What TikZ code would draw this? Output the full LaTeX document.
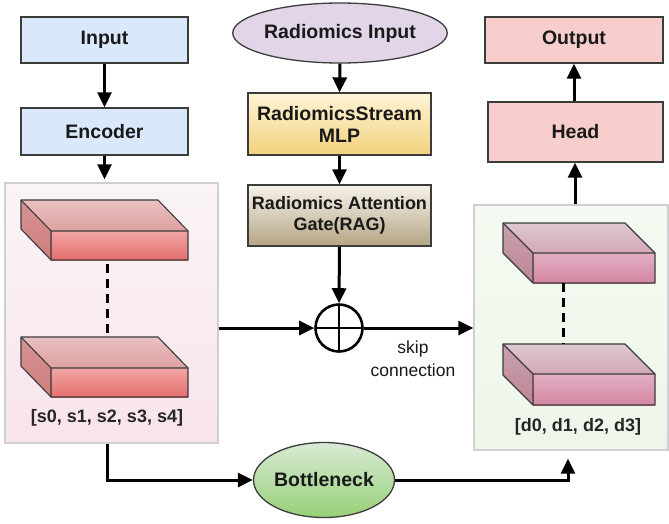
\documentclass[tikz,border=0pt]{standalone}
\usepackage{fontspec}
\setmainfont{Liberation Sans}
\usetikzlibrary{arrows.meta,shapes.geometric,calc}
\definecolor{strk}{HTML}{3C3C3C}
\definecolor{inblue}{HTML}{DAE8FC}
\definecolor{outpink}{HTML}{F8CECC}
\definecolor{radpurp}{HTML}{E1D5E7}
\definecolor{mlpA}{HTML}{FFF4D6}
\definecolor{mlpB}{HTML}{F2D27E}
\definecolor{ragA}{HTML}{F6F2EA}
\definecolor{ragB}{HTML}{B5A585}
\definecolor{bnA}{HTML}{D8EBD5}
\definecolor{bnB}{HTML}{97D077}
\definecolor{lcA}{HTML}{FAF4F6}
\definecolor{lcB}{HTML}{F8E4EA}
\definecolor{rcA}{HTML}{F4FAF1}
\definecolor{rcB}{HTML}{EEF6EA}
\definecolor{contstrk}{HTML}{D0D0D0}
% left slab colours
\definecolor{LTa}{HTML}{EAC0C0}
\definecolor{LTb}{HTML}{DEA0A0}
\definecolor{LFa}{HTML}{F2A6A6}
\definecolor{LFb}{HTML}{E66E6E}
\definecolor{LSa}{HTML}{D89292}
\definecolor{LSb}{HTML}{CE7E7E}
% right slab colours
\definecolor{RTa}{HTML}{DDC9D2}
\definecolor{RTb}{HTML}{D3A7B9}
\definecolor{RFa}{HTML}{E2AEC3}
\definecolor{RFb}{HTML}{D486A3}
\definecolor{RSa}{HTML}{CBA0AE}
\definecolor{RSb}{HTML}{BC8696}
% slab: x y w dx dy h prefix
\newcommand\slabshape[7]{%
  \fill[top color=#7Ta,bottom color=#7Tb] (#1,#2) -- ++(#3,0) -- ++(#4,#5) -- ++(-#3,0) -- cycle;
  \fill[top color=#7Fa,bottom color=#7Fb] (#1+#4,#2+#5) rectangle ++(#3,#6);
  \fill[top color=#7Sa,bottom color=#7Sb] (#1,#2) -- ++(#4,#5) -- ++(0,#6) -- ++(-#4,-#5) -- cycle;
  \draw[slabline] (#1,#2) -- ++(#3,0) -- ++(#4,#5) -- ++(0,#6) -- ++(-#3,0) -- ++(-#4,-#5) -- cycle;
  \draw[slabline] (#1,#2) -- ++(#4,#5) -- ++(#3,0) (#1+#4,#2+#5) -- ++(0,#6);
}
\begin{document}
\begin{tikzpicture}[x=1pt,y=-1pt,
  box/.style={draw=strk,line width=1.3pt,rectangle,minimum width=#1,inner sep=0pt,
    font=\fontsize{19.5}{23}\selectfont\bfseries,text=black!90,align=center},
  box/.default=170pt,
  cont/.style={draw=contstrk,line width=1.3pt,rectangle,inner sep=0pt},
  slabline/.style={draw=strk,line width=1.1pt,line join=round},
  arr/.style={line width=3pt,-{Stealth[length=15pt,width=14pt,inset=0pt]}},
  dashln/.style={line width=3pt,dash pattern=on 9pt off 6pt},
  lbl/.style={font=\fontsize{18}{21}\selectfont\bfseries,text=black!85},
]
\useasboundingbox (0,0) rectangle (669,523);
\fill[white] (0,0) rectangle (669,523);

% left column
\node[box=167pt,minimum height=46pt,fill=inblue] (input) at (104.5,40) {Input};
\node[box=167pt,minimum height=47pt,fill=inblue] (enc) at (104.5,131.5) {Encoder};
\node[cont,minimum width=213pt,minimum height=260pt,top color=lcA,bottom color=lcB] (leftc) at (111.5,313) {};
\slabshape{21}{200}{137}{30}{31}{29}{L}
\slabshape{21}{337}{137}{30}{31}{29}{L}
\draw[dashln] (107,264) -- (107,338);
\node[lbl] (slabel) at (107,418) {[s0, s1, s2, s3, s4]};

% middle column
\node[ellipse,draw=strk,line width=1.3pt,fill=radpurp,minimum width=184pt,minimum height=60pt,inner sep=0pt,
  font=\fontsize{19.5}{23}\selectfont\bfseries,text=black!90] (radin) at (340,33) {Radiomics Input};
\node[box=183pt,minimum height=62pt,top color=mlpA,bottom color=mlpB] (mlp) at (339.5,124) {RadiomicsStream\\[-1pt]MLP};
\node[box=183pt,minimum height=61pt,top color=ragA,bottom color=ragB,font=\fontsize{18}{22}\selectfont\bfseries] (rag) at (339.5,215.5) {Radiomics Attention\\[-1pt]Gate(RAG)};
\node[circle,draw=black,line width=2.6pt,minimum size=47pt,inner sep=0pt,
  path picture={\draw[line width=2.6pt] (path picture bounding box.north) -- (path picture bounding box.south)
     (path picture bounding box.west) -- (path picture bounding box.east);}] (circ) at (339,328) {};
\node[font=\fontsize{17.5}{23}\selectfont,align=center,text=black!90] (skip) at (413,359) {skip\\connection};

% right column
\node[box=178pt,minimum height=46pt,fill=outpink] (output) at (574,40) {Output};
\node[box=175pt,minimum height=60pt,fill=outpink] (head) at (575.5,132) {Head};
\node[cont,minimum width=194pt,minimum height=245pt,top color=rcA,bottom color=rcB] (rightc) at (571,327.5) {};
\slabshape{503}{223}{122}{30}{30}{30}{R}
\slabshape{503}{344}{122}{30}{30}{31}{R}
\draw[dashln] (563,283) -- (563,344);
\node[lbl] (dlabel) at (578,427) {[d0, d1, d2, d3]};

% bottleneck
\node[ellipse,draw=strk,line width=1.3pt,top color=bnA,bottom color=bnB,minimum width=122pt,minimum height=75pt,inner sep=0pt,
  font=\fontsize{19.5}{23}\selectfont\bfseries,text=black!90] (bneck) at (324,480) {Bottleneck};

% connectors
\draw[arr] (input.south) -- (enc.north);
\draw[arr] (enc.south) -- ([yshift=3pt]enc.south |- leftc.north);
\draw[arr] (radin.south) -- (mlp.north);
\draw[arr] (mlp.south) -- (rag.north);
\draw[arr] (rag.south) -- (circ.north);
\draw[arr] (leftc.east |- circ.west) -- (circ.west);
\draw[arr] (circ.east) -- (rightc.west |- circ.east);
\draw[arr] ([xshift=-1.5pt]head.north) -- ([xshift=-1.5pt]head.north |- output.south);
\draw[arr] ([xshift=4pt]rightc.north) -- ([xshift=4pt]rightc.north |- head.south);
\draw[arr] ([xshift=-4.5pt]leftc.south) |- (bneck.west);
\coordinate (rcin) at ([xshift=-3pt,yshift=-8pt]rightc.south);
\draw[arr] (bneck.east) -| (rcin);
\end{tikzpicture}
\end{document}
